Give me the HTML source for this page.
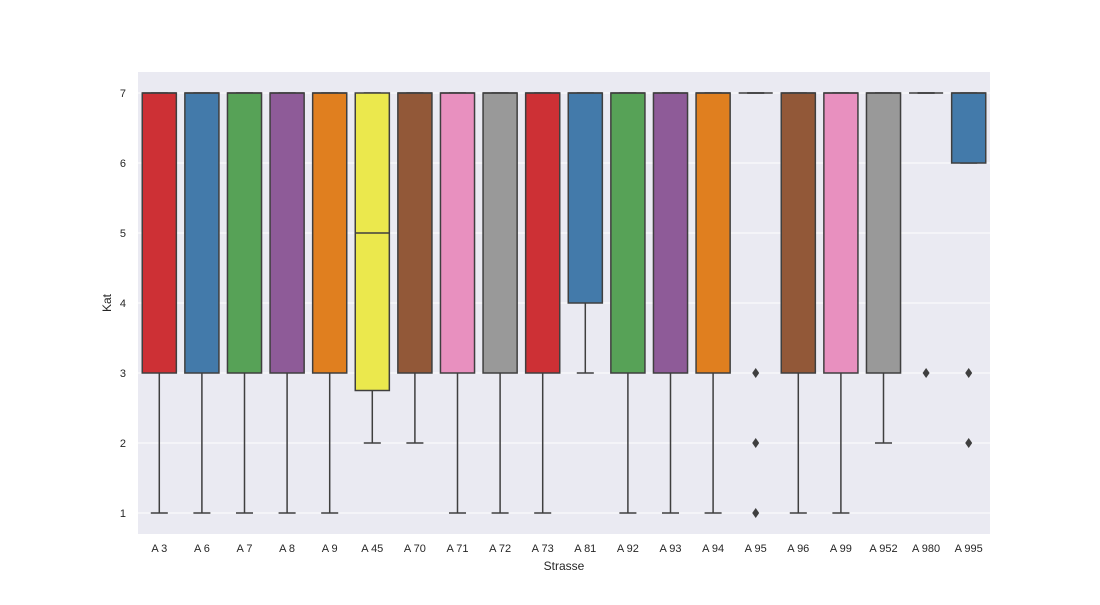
<!DOCTYPE html>
<html><head><meta charset="utf-8"><style>
body{margin:0;background:#fff;font-family:"Liberation Sans","DejaVu Sans",sans-serif;}
svg text{font-family:"Liberation Sans","DejaVu Sans",sans-serif;fill:#262626;}
</style></head><body>
<svg id="chart" width="1100" height="600" xmlns="http://www.w3.org/2000/svg">
<rect x="0" y="0" width="1100" height="600" fill="#fff"/>
<rect x="138" y="72" width="852" height="462" fill="#eaeaf2"/>
<g id="grid"></g><g id="boxes"></g><g id="xticks"></g><g id="yticks"></g>
<text x="564" y="570" font-size="12" text-anchor="middle">Strasse</text>
<text x="111" y="303" font-size="12" text-anchor="middle" transform="rotate(-90 111 303)">Kat</text>
</svg>
<script>
const categories=["A 3","A 6","A 7","A 8","A 9","A 45","A 70","A 71","A 72","A 73","A 81","A 92","A 93","A 94","A 95","A 96","A 99","A 952","A 980","A 995"];
const q1=[3,3,3,3,3,2.75,3,3,3,3,4,3,3,3,7,3,3,3,7,6];
const medians=[7,7,7,7,7,5,7,7,7,7,7,7,7,7,7,7,7,7,7,7];
const q3=[7,7,7,7,7,7,7,7,7,7,7,7,7,7,7,7,7,7,7,7];
const whiskerLow=[1,1,1,1,1,2,2,1,1,1,3,1,1,1,7,1,1,2,7,6];
const whiskerHigh=[7,7,7,7,7,7,7,7,7,7,7,7,7,7,7,7,7,7,7,7];
const outliers=[[],[],[],[],[],[],[],[],[],[],[],[],[],[],[3,2,1],[],[],[],[3],[3,2]];
const yTicks=[1,2,3,4,5,6,7];
const palette=["#cd3035","#437aaa","#57a257","#8e5b98","#e07f1f","#ebe84d","#925838","#e890bf","#999999"];
const NS="http://www.w3.org/2000/svg";
const X0=138,W=852,band=W/categories.length;
const y=v=>513-(v-1)*70;
const xc=i=>X0+band*(i+0.5);
function mk(tag,attrs,parent){const e=document.createElementNS(NS,tag);for(const k in attrs)e.setAttribute(k,attrs[k]);parent.appendChild(e);return e;}
const grid=document.getElementById('grid'),yt=document.getElementById('yticks'),xt=document.getElementById('xticks'),bx=document.getElementById('boxes');
yTicks.forEach(t=>{
 const l=mk('line',{x1:X0,x2:X0+W,y1:y(t),y2:y(t),stroke:"#fff","stroke-width":1},grid);
 
 
 const tx=mk('text',{x:126,y:y(t)+4,"font-size":11,"text-anchor":"end"},yt);tx.textContent=t;
 
 
});
const LC="#3f3f3f",bw=band*0.8;
categories.forEach((c,i)=>{
 const g=mk('g',{},bx);
 
 
 const cx=xc(i);
 mk('line',{x1:cx,x2:cx,y1:y(q1[i]),y2:y(whiskerLow[i]),stroke:LC,"stroke-width":1.5},g);
 mk('line',{x1:cx,x2:cx,y1:y(q3[i]),y2:y(whiskerHigh[i]),stroke:LC,"stroke-width":1.5},g);
 mk('line',{x1:cx-bw/4,x2:cx+bw/4,y1:y(whiskerLow[i]),y2:y(whiskerLow[i]),stroke:LC,"stroke-width":1.5},g);
 mk('line',{x1:cx-bw/4,x2:cx+bw/4,y1:y(whiskerHigh[i]),y2:y(whiskerHigh[i]),stroke:LC,"stroke-width":1.5},g);
 mk('rect',{x:cx-bw/2,y:y(q3[i]),width:bw,height:Math.max(0,y(q1[i])-y(q3[i])),fill:palette[i%9],stroke:LC,"stroke-width":1.5},g);
 mk('line',{x1:cx-bw/2,x2:cx+bw/2,y1:y(medians[i]),y2:y(medians[i]),stroke:LC,"stroke-width":1.5},g);
 outliers[i].forEach(o=>{
  const d=mk('path',{d:`M${cx},${y(o)-5}L${cx+3.5},${y(o)}L${cx},${y(o)+5}L${cx-3.5},${y(o)}Z`,fill:"#3f3f3f"},g);
  
  
 });
 const tx=mk('text',{x:cx,y:552,"font-size":11,"text-anchor":"middle"},xt);tx.textContent=c;
 
 
});
</script>
</body></html>
